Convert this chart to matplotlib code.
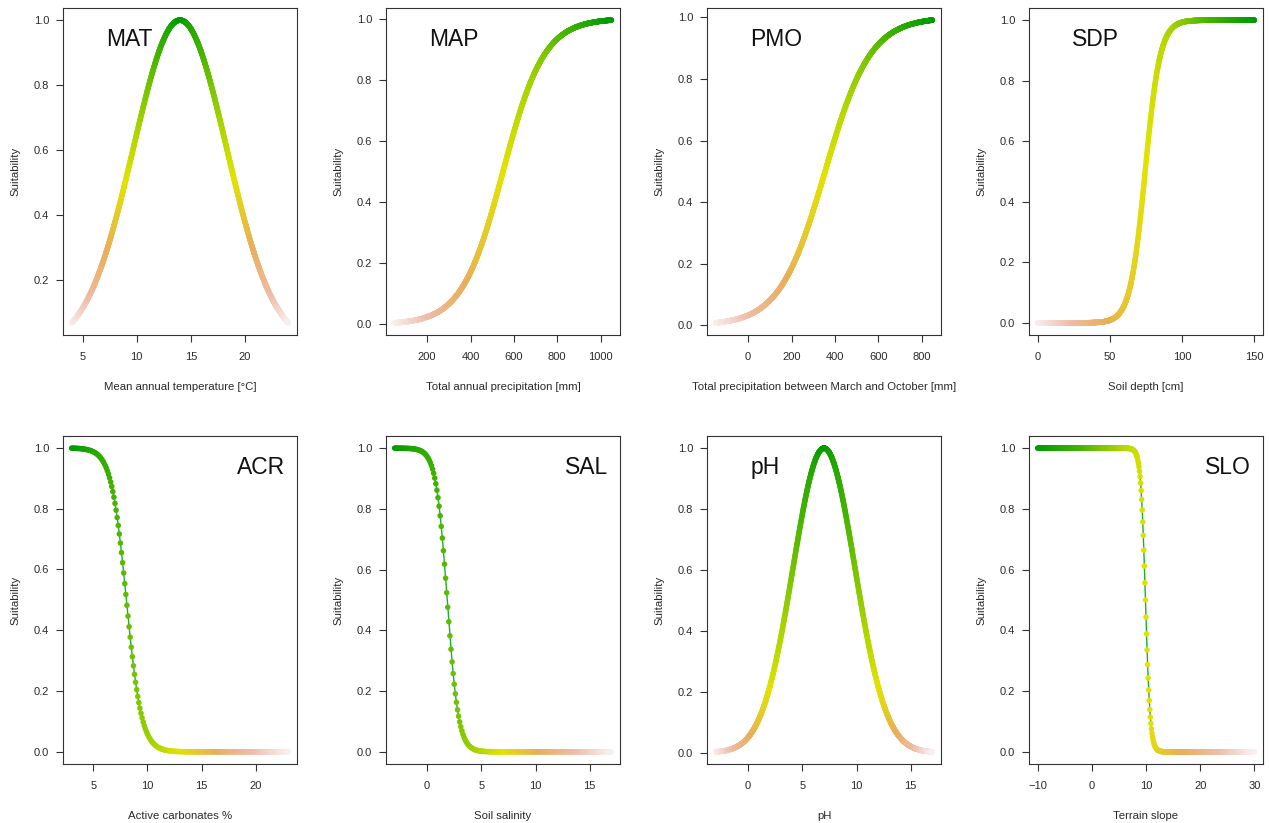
import numpy as np
import matplotlib
matplotlib.use("Agg")
import matplotlib.pyplot as plt
from matplotlib.colors import LinearSegmentedColormap

plt.rcParams["font.family"] = ["Liberation Sans", "DejaVu Sans"]

# Panel codes and axis texts
panel_codes = ["MAT", "MAP", "PMO", "SDP", "ACR", "SAL", "pH", "SLO"]
x_labels = [
    "Mean annual temperature [\u00b0C]",
    "Total annual precipitation [mm]",
    "Total precipitation between March and October [mm]",
    "Soil depth [cm]",
    "Active carbonates %",
    "Soil salinity",
    "pH",
    "Terrain slope",
]

# Suitability curves: range of x, shape, optimum/midpoint, spread
x_min = [4, 50, -150, 0, 3, -3, -3, -10]
x_max = [24, 1050, 850, 150, 23, 17, 17, 30]
curve_shape = ["bell", "rise", "rise", "rise", "fall", "fall", "bell", "fall"]
curve_center = [14, 550, 355, 74.4, 8.05, 1.85, 7, 9.9]
curve_width = [4.3, 95, 105, 5.2, 0.7, 0.52, 2.86, 0.44]
n_points = [1000, 1000, 1000, 1000, 201, 201, 1000, 401]

x_ticks = [
    [5, 10, 15, 20],
    [200, 400, 600, 800, 1000],
    [0, 200, 400, 600, 800],
    [0, 50, 100, 150],
    [5, 10, 15, 20],
    [0, 5, 10, 15],
    [0, 5, 10, 15],
    [-10, 0, 10, 20, 30],
]

# colour ramp from low to high suitability
ramp = LinearSegmentedColormap.from_list(
    "suit",
    [(0.0, "#f8f0ee"), (0.16, "#efbca8"), (0.33, "#e9ae5a"),
     (0.5, "#e3e200"), (0.62, "#a8d400"), (0.8, "#44b400"), (1.0, "#009a00")],
)

W, H = 1269, 823
fig = plt.figure(figsize=(W / 100, H / 100), dpi=100)
fig.patch.set_facecolor("white")

col_left = [63, 386, 707, 1029]
row_top = [8, 436]
row_bottom = [335, 764]
ax_w = 234

for i, code in enumerate(panel_codes):
    r, c = divmod(i, 4)
    left = col_left[c]
    top, bottom = row_top[r], row_bottom[r]
    ax = fig.add_axes([left / W, 1 - bottom / H, ax_w / W, (bottom - top) / H])

    x = np.linspace(x_min[i], x_max[i], n_points[i])
    m, s = curve_center[i], curve_width[i]
    if curve_shape[i] == "bell":
        y = np.exp(-((x - m) ** 2) / (2 * s ** 2))
        tie = -np.abs(x - m)
    elif curve_shape[i] == "rise":
        y = 1 / (1 + np.exp(-(x - m) / s))
        tie = x
    else:
        y = 1 / (1 + np.exp((x - m) / s))
        tie = -x

    order = np.lexsort((tie, y))
    rank = np.empty(len(y))
    rank[order] = np.arange(len(y)) / (len(y) - 1)

    ax.plot(x, y, color="#1fae2a", lw=1.0, zorder=2)
    ax.scatter(x, y, c=ramp(rank), s=16, edgecolors="none", zorder=3)

    # R-style 4% padding
    dx = x.max() - x.min()
    dy = y.max() - y.min()
    ylo = y.min() - 0.04 * dy
    ax.set_xlim(x.min() - 0.04 * dx, x.max() + 0.04 * dx)
    ax.set_ylim(ylo, y.max() + 0.04 * dy)

    ax.set_xticks(x_ticks[i])
    yt = [t for t in [0.0, 0.2, 0.4, 0.6, 0.8, 1.0] if t >= ylo]
    ax.set_yticks(yt)
    ax.set_yticklabels([f"{t:.1f}" for t in yt])

    for sp in ax.spines.values():
        sp.set_color("#333333")
        sp.set_linewidth(0.8)
    ax.tick_params(direction="out", length=5, width=0.8, color="#333333",
                   labelsize=8, labelcolor="#2a2a2a")
    ax.tick_params(axis="x", pad=7)
    ax.tick_params(axis="y", pad=5)

    ax.set_xlabel(x_labels[i], fontsize=8.2, color="#2a2a2a")
    ax.xaxis.set_label_coords(0.5, -52 / (bottom - top))
    ax.xaxis.label.set_va("center")
    ax.set_ylabel("Suitability", fontsize=8.2, color="#2a2a2a")
    ax.yaxis.set_label_coords(-48 / ax_w, 0.5)
    ax.yaxis.label.set_va("center")

    if curve_shape[i] == "fall":
        ax.text(0.948, 0.905, code, transform=ax.transAxes, ha="right",
                va="center", fontsize=16.5, color="#111111")
    else:
        ax.text(0.185, 0.905, code, transform=ax.transAxes, ha="left",
                va="center", fontsize=16.5, color="#111111")

fig.savefig("out.png", dpi=100)
